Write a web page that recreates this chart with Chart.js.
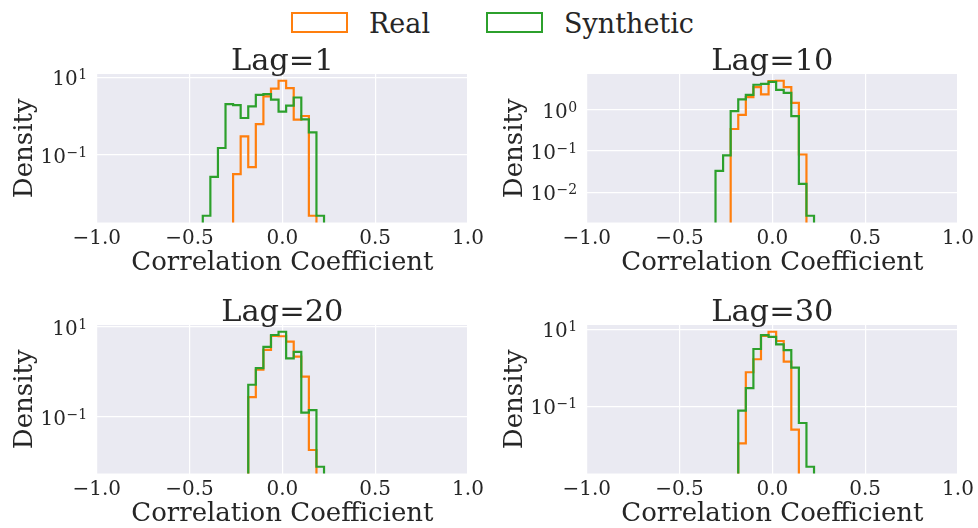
<!DOCTYPE html>
<html>
<head>
<meta charset="utf-8">
<script src="https://cdn.jsdelivr.net/npm/chart.js@4.4.0/dist/chart.umd.min.js"></script>
<style>
  html, body { margin: 0; padding: 0; background: #fff; }
  body { width: 978px; height: 528px; position: relative; overflow: hidden; font-family: 'DejaVu Serif', serif; color: #262626; }
  canvas { position: absolute; }
  .key { position: absolute; top: 12px; width: 53px; height: 17px; border: 2px solid; }
  .key-label { position: absolute; top: 10px; font-size: 27px; line-height: 27px; white-space: nowrap; }
</style>
</head>
<body>
<div class="key" style="left:291px; border-color:#ff7f0e"></div>
<span class="key-label" style="left:369px">Real</span>
<div class="key" style="left:486px; border-color:#2ca02c"></div>
<span class="key-label" style="left:564px">Synthetic</span>

<canvas id="lag1" width="489" height="236" style="left:0px; top:40px"></canvas>
<canvas id="lag10" width="489" height="236" style="left:490px; top:40px"></canvas>
<canvas id="lag20" width="489" height="236" style="left:0px; top:291px"></canvas>
<canvas id="lag30" width="489" height="236" style="left:490px; top:291px"></canvas>

<script>
// histogram bins: 50 edges spread evenly over [-1, 1]
const binEdges = Array.from({ length: 50 }, (_, k) => -1 + k * 2 / 49);

// density per bin, starting at the given bin index
const realLag1 = [0.032, 0.30, 0.048, 0.62, 3.2, 5.1, 8.1, 5.2, 0.81, 1.0, 0.0027];
const synthLag1 = [0.0027, 0.027, 0.15, 2.03, 1.9, 0.89, 1.77, 3.5, 3.66, 2.63, 1.30, 1.85, 3.0, 0.82, 0.38, 0.0027];
const realLag10 = [0.34, 0.75, 2.0, 3.5, 2.33, 4.9, 5.0, 3.5, 1.46, 0.082];
const synthLag10 = [0.033, 0.078, 0.92, 1.77, 2.28, 4.0, 4.2, 4.7, 3.0, 2.55, 0.70, 0.016, 0.0027];
const realLag20 = [0.276, 1.12, 3.1, 6.3, 6.2, 4.7, 2.2, 0.79, 0.0186];
const synthLag20 = [0.52, 1.22, 3.6, 6.6, 7.8, 2.0, 2.8, 0.126, 0.143, 0.0079];
const realLag30 = [0.011, 0.77, 1.68, 6.8, 8.7, 5.0, 1.46, 0.025];
const synthLag30 = [0.078, 0.30, 3.1, 7.1, 6.4, 4.1, 2.9, 1.02, 0.037, 0.0027];

const xTicks = [-1, -0.5, 0, 0.5, 1];
const xTickLabels = ['\u22121.0', '\u22120.5', '0.0', '0.5', '1.0'];
// y ticks are powers of ten; labels are drawn as 10 with a raised exponent
const yExpTwoDecades = [1, -1];
const yExpLag10 = [0, -1, -2];

const REAL_COLOR = '#ff7f0e';
const SYNTH_COLOR = '#2ca02c';
const TEXT_COLOR = '#262626';
const FONT = '"DejaVu Serif", serif';
const TICK_SIZE = 20;
const FLOOR = 1e-6; // empty bins, far below the visible range

Chart.defaults.font.family = FONT;
Chart.defaults.color = TEXT_COLOR;

const panels = [
  { id: 'lag1', title: 'Lag=1', real: realLag1, realStart: 18, synth: synthLag1, synthStart: 14, yExp: yExpTwoDecades },
  { id: 'lag10', title: 'Lag=10', real: realLag10, realStart: 19, synth: synthLag10, synthStart: 17, yExp: yExpLag10 },
  { id: 'lag20', title: 'Lag=20', real: realLag20, realStart: 20, synth: synthLag20, synthStart: 20, yExp: yExpTwoDecades },
  { id: 'lag30', title: 'Lag=30', real: realLag30, realStart: 20, synth: synthLag30, synthStart: 20, yExp: yExpTwoDecades },
];

// step outline of a histogram, closed down to the floor at both ends
function stepOutline(values, start) {
  const pts = [{ x: binEdges[start], y: FLOOR }];
  values.forEach((v, i) => pts.push({ x: binEdges[start + i], y: v }));
  pts.push({ x: binEdges[start + values.length], y: FLOOR });
  return pts;
}

// log axis limits with a 5% margin in log space
function logLimits(a, b) {
  const all = a.concat(b);
  const lo = Math.log10(Math.min(...all));
  const hi = Math.log10(Math.max(...all));
  const pad = 0.05 * (hi - lo);
  return { min: Math.pow(10, lo - pad), max: Math.pow(10, hi + pad) };
}

const plotBackground = {
  id: 'plotBackground',
  beforeDraw(chart) {
    const { ctx, chartArea: a } = chart;
    ctx.save();
    ctx.fillStyle = '#eaeaf2';
    ctx.fillRect(a.left, a.top, a.right - a.left, a.bottom - a.top);
    ctx.restore();
  }
};

const panelTitle = {
  id: 'panelTitle',
  afterDraw(chart, args, opts) {
    const { ctx, chartArea: a } = chart;
    ctx.save();
    ctx.font = '30.5px ' + FONT;
    ctx.fillStyle = TEXT_COLOR;
    ctx.textAlign = 'center';
    ctx.textBaseline = 'alphabetic';
    ctx.fillText(opts.text, (a.left + a.right) / 2, a.top - 4);
    ctx.restore();
  }
};

// "10" plus superscript exponent for each log tick
const powerLabels = {
  id: 'powerLabels',
  afterDraw(chart, args, opts) {
    const { ctx, chartArea: a } = chart;
    const y = chart.scales.y;
    ctx.save();
    ctx.fillStyle = TEXT_COLOR;
    ctx.textBaseline = 'alphabetic';
    ctx.textAlign = 'right';
    opts.exponents.forEach(e => {
      const py = y.getPixelForValue(Math.pow(10, e));
      const right = a.left - 9.5;
      const exp = e < 0 ? '\u2212' + (-e) : String(e);
      ctx.font = '14px ' + FONT;
      const w = ctx.measureText(exp).width;
      ctx.fillText(exp, right, py + 2);
      ctx.font = TICK_SIZE + 'px ' + FONT;
      ctx.fillText('10', right - w - 0.5, py + 8);
    });
    ctx.restore();
  }
};

panels.forEach(p => {
  const lim = logLimits(p.real, p.synth);
  new Chart(document.getElementById(p.id), {
    type: 'line',
    data: {
      datasets: [
        { label: 'Synthetic', data: stepOutline(p.synth, p.synthStart), borderColor: SYNTH_COLOR },
        { label: 'Real', data: stepOutline(p.real, p.realStart), borderColor: REAL_COLOR },
      ]
    },
    options: {
      responsive: false,
      animation: false,
      devicePixelRatio: 1,
      layout: { padding: { top: 34, right: 21, bottom: 0, left: 0 } },
      elements: {
        line: { borderWidth: 2.2, stepped: true, tension: 0, fill: false },
        point: { radius: 0 }
      },
      plugins: {
        legend: { display: false },
        tooltip: { enabled: false },
        panelTitle: { text: p.title },
        powerLabels: { exponents: p.yExp }
      },
      scales: {
        x: {
          type: 'linear',
          min: -1,
          max: 1,
          afterBuildTicks: s => { s.ticks = xTicks.map(v => ({ value: v })); },
          afterFit: s => { s.height = 53.5; },
          ticks: { callback: (v, i) => xTickLabels[i], font: { size: TICK_SIZE }, padding: 4.5, maxRotation: 0, autoSkip: false },
          grid: { color: '#ffffff', lineWidth: 1.2, drawTicks: false },
          border: { display: false },
          title: { display: true, text: 'Correlation Coefficient', font: { size: 26, lineHeight: 1 }, padding: { top: 0, bottom: 0 } }
        },
        y: {
          type: 'logarithmic',
          min: lim.min,
          max: lim.max,
          afterBuildTicks: s => { s.ticks = p.yExp.map(e => ({ value: Math.pow(10, e) })); },
          afterFit: s => { s.width = 96.7; },
          ticks: { display: false },
          grid: { color: '#ffffff', lineWidth: 1.2, drawTicks: false },
          border: { display: false },
          title: { display: true, text: 'Density', font: { size: 26, lineHeight: 1 }, padding: { top: 12, bottom: 0 } }
        }
      }
    },
    plugins: [plotBackground, panelTitle, powerLabels]
  });
});
</script>
</body>
</html>
